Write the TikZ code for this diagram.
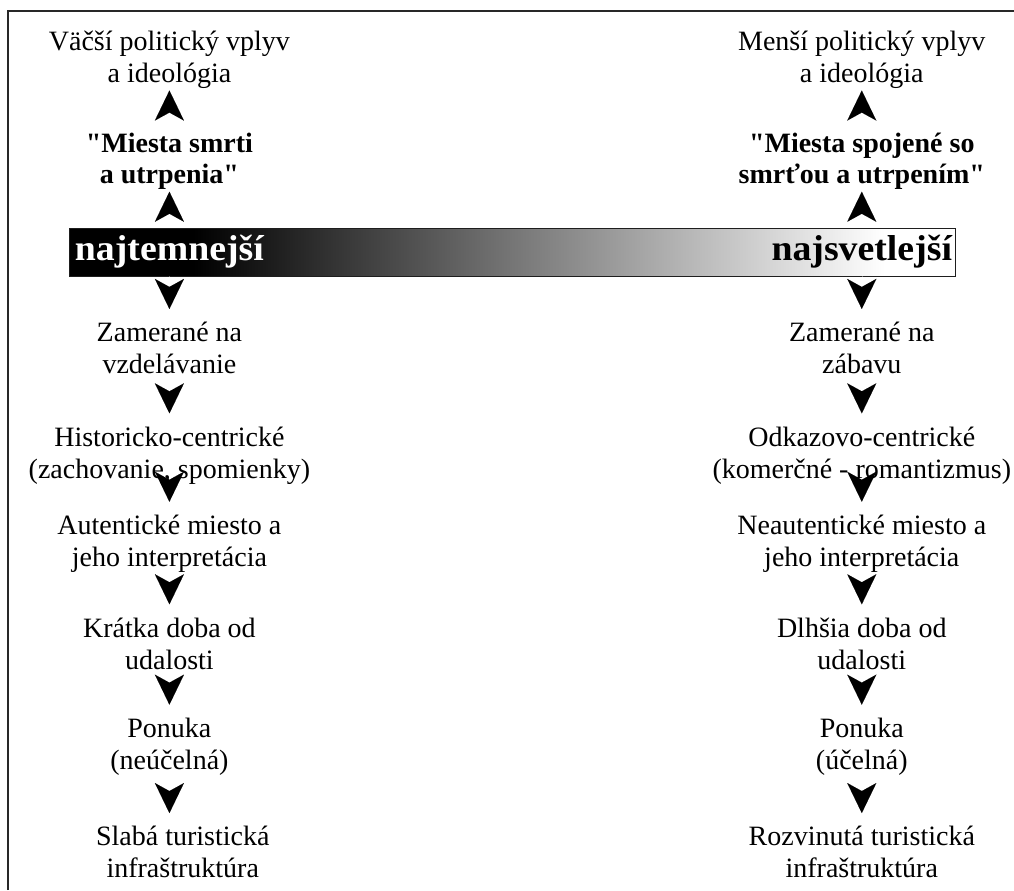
\documentclass[tikz,border=0pt]{standalone}
\usepackage{fontspec}
\setmainfont{Liberation Serif}
\newfontfamily\barfont{Liberation Serif}[FakeStretch=1.05]
\usetikzlibrary{arrows.meta,positioning}
\definecolor{frameclr}{RGB}{40,40,40}
\definecolor{bardr}{RGB}{30,30,30}
\pgfdeclarehorizontalshading{barshade}{100bp}{color(0bp)=(black); color(32bp)=(black);
  color(71bp)=(white); color(100bp)=(white)}
\tikzset{
  txt/.style={font=\fontsize{21}{24}\selectfont,align=center,inner sep=0pt,
    text height=37.9pt,text depth=6pt},
  btxt/.style={txt,font=\bfseries\fontsize{21}{23.25}\selectfont,
    text height=37.5pt,text depth=6pt},
  barbox/.style={rectangle,draw=bardr,line width=0.75pt,shading=barshade,
    minimum width=665pt,minimum height=36pt,inner sep=0pt},
  bartxt/.style={font=\barfont\bfseries\fontsize{27}{30}\selectfont,
    inner sep=0pt,minimum height=36pt},
  uarr/.style={draw=white,line width=0.01pt,
    -{Stealth[black,length=22.5pt,width=21.75pt,inset=6pt]}},
  darr/.style={uarr,shorten >=10.5pt},
  frm/.style={draw=frameclr,line width=1.5pt},
}

\begin{document}
\begin{tikzpicture}[x=0.75pt,y=-0.75pt]
  \useasboundingbox (0,0) rectangle (1014,890);
  \draw[frm] (8,890) -- (8,11) -- (1014,11);

  \node[barbox] (bar) at (512.5,252) {};
  \node[bartxt,text=white,anchor=west,xshift=4.5pt] (dark) at (bar.west) {najtemnejší};
  \node[bartxt,anchor=east,xshift=-3pt] (light) at (bar.east) {najsvetlejší};

  % lava strana
  \node[btxt,above=27pt of dark] (lmies) {\textquotedbl Miesta smrti\\a utrpenia\textquotedbl};
  \node[txt,above=32pt of lmies] (lvpl) {Väčší politický vplyv\\a ideológia};
  \node[txt,below=35pt of dark] (lzam) {Zamerané na\\vzdelávanie};
  \node[txt,below=34pt of lzam] (lhist) {Historicko-centrické\\(zachovanie, spomienky)};
  \node[txt,below=22pt of lhist] (laut) {Autentické miesto a\\jeho interpretácia};
  \node[txt,below=32.6pt of laut] (lkrat) {Krátka doba od\\udalosti};
  \node[txt,below=31pt of lkrat] (lpon) {Ponuka\\(neúčelná)};
  \node[txt,below=37pt of lpon,xshift=10pt] (lsla) {Slabá turistická\\infraštruktúra};

  % prava strana
  \node[btxt,above=27pt of light] (rmies) {\textquotedbl Miesta spojené so\\smrťou a utrpením\textquotedbl};
  \node[txt,above=32pt of rmies] (rvpl) {Menší politický vplyv\\a ideológia};
  \node[txt,below=35pt of light] (rzam) {Zamerané na\\zábavu};
  \node[txt,below=34pt of rzam] (rodk) {Odkazovo-centrické\\(komerčné - romantizmus)};
  \node[txt,below=22pt of rodk] (rneau) {Neautentické miesto a\\jeho interpretácia};
  \node[txt,below=32.6pt of rneau] (rdlh) {Dlhšia doba od\\udalosti};
  \node[txt,below=31pt of rdlh] (rpon) {Ponuka\\(účelná)};
  \node[txt,below=37pt of rpon] (rroz) {Rozvinutá turistická\\infraštruktúra};

  \draw[uarr] (dark) -- (lmies); \draw[uarr] (lmies) -- (lvpl);
  \draw[uarr] (light) -- (rmies); \draw[uarr] (rmies) -- (rvpl);
  \draw[darr] (dark) -- (lzam); \draw[darr] (lzam) -- (lhist);
  \draw[darr] (lhist) -- (laut); \draw[darr] (laut) -- (lkrat);
  \draw[darr] (lkrat) -- (lpon);
  \draw[darr] (lpon.south) -- (lpon.south |- lsla.north);
  \draw[darr] (light) -- (rzam); \draw[darr] (rzam) -- (rodk);
  \draw[darr] (rodk) -- (rneau); \draw[darr] (rneau) -- (rdlh);
  \draw[darr] (rdlh) -- (rpon); \draw[darr] (rpon) -- (rroz);
\end{tikzpicture}
\end{document}
